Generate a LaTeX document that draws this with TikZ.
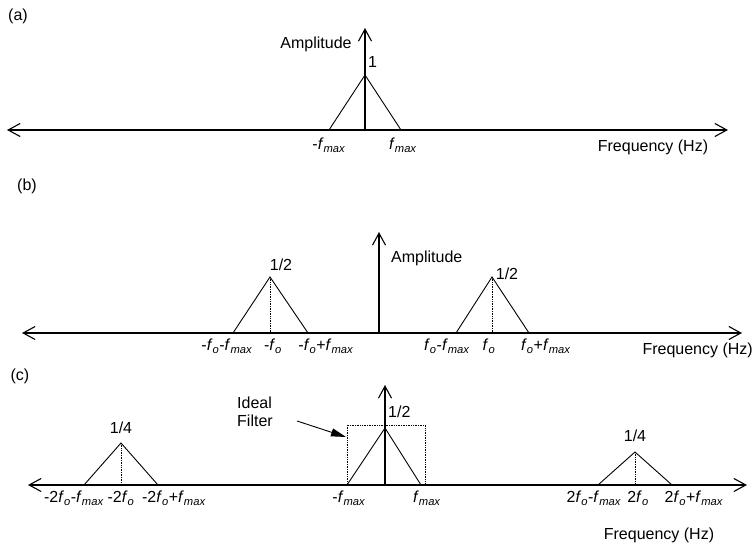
\documentclass[tikz,border=0pt]{standalone}
\usepackage{fontspec}
\setmainfont{Liberation Sans}
\usetikzlibrary{arrows.meta}
\newcommand{\fmx}{\textit{f}\textsubscript{\textit{max}}}
\newcommand{\fzo}{\textit{f}\textsubscript{\textit{o}}}
\begin{document}
\begin{tikzpicture}[x=1pt,y=-1pt,
  font=\fontsize{16}{18.5}\selectfont,
  axis/.style={line width=1.1pt,{Straight Barb[length=12pt,width=13pt]}-{Straight Barb[length=12pt,width=13pt]}},
  uparrow/.style={line width=1.1pt,-{Straight Barb[length=12pt,width=13pt]}},
  tri/.style={line width=0.9pt},
  dots/.style={densely dotted,line width=0.7pt},
  txt/.style={inner sep=0pt}]
\useasboundingbox (0,0) rectangle (753,543);

% ---------- (a)
\node[txt] (la) at (18,16) {(a)};
\coordinate (aL) at (7,130);
\coordinate (aR) at (728,130);
\coordinate (aO) at (365,130);
\coordinate (aT) at (365,28);
\coordinate (aP) at (365,75);
\coordinate (aB1) at (329,130);
\coordinate (aB2) at (401,130);
\draw[axis] (aL) -- (aR);
\draw[uparrow] (aO) -- (aT);
\draw[tri] (aB1) -- (aP) -- (aB2);
\node[txt] (aamp) at (316,44) {Amplitude};
\node[txt,anchor=west] (aone) at (368,62) {1};
\node[txt] (afm1) at (329,145) {-\fmx};
\node[txt] (afm2) at (403,145) {\fmx};
\node[txt] (afreq) at (653,147) {Frequency (Hz)};

% ---------- (b)
\node[txt] (lb) at (27,186) {(b)};
\coordinate (bL) at (22,333);
\coordinate (bR) at (742,333);
\coordinate (bO) at (379,333);
\coordinate (bT) at (379,232);
\draw[axis] (bL) -- (bR);
\draw[uparrow] (bO) -- (bT);
\coordinate (bl1) at (233,333);
\coordinate (blp) at (270,277);
\coordinate (blc) at (270,333);
\coordinate (bl2) at (308,333);
\draw[tri] (bl1) -- (blp) -- (bl2);
\draw[dots] (blp) -- (blc);
\coordinate (br1) at (456,333);
\coordinate (brp) at (492,277);
\coordinate (brc) at (492,333);
\coordinate (br2) at (529,333);
\draw[tri] (br1) -- (brp) -- (br2);
\draw[dots] (brp) -- (brc);
\node[txt,anchor=west] (bamp) at (391,258) {Amplitude};
\node[txt] (bh1) at (281,265) {1/2};
\node[txt] (bh2) at (507,274) {1/2};
\node[txt] (blab1) at (227,346) {-\fzo-\fmx};
\node[txt] (blab2) at (273,346) {-\fzo};
\node[txt] (blab3) at (326,346) {-\fzo+\fmx};
\node[txt] (blab4) at (447,346) {\fzo-\fmx};
\node[txt] (blab5) at (489,346) {\fzo};
\node[txt] (blab6) at (546,346) {\fzo+\fmx};
\node[txt,anchor=east] (bfreq) at (753,350) {Frequency (Hz)};

% ---------- (c)
\node[txt] (lc) at (20,376) {(c)};
\coordinate (cL) at (28,485);
\coordinate (cR) at (747,485);
\coordinate (cO) at (385,485);
\coordinate (cT) at (385,385);
\draw[axis] (cL) -- (cR);
\draw[uparrow] (cO) -- (cT);
\coordinate (cc1) at (347,485);
\coordinate (ccp) at (385,428);
\coordinate (cc2) at (421,485);
\draw[tri] (cc1) -- (ccp) -- (cc2);
\coordinate (fb1) at (347,485);
\coordinate (fb2) at (425,425);
\draw[dots] (fb1) rectangle (fb2);
\coordinate (cl1) at (84,485);
\coordinate (clp) at (121,443);
\coordinate (clc) at (121,485);
\coordinate (cl2) at (158,485);
\draw[tri] (cl1) -- (clp) -- (cl2);
\draw[dots] (clp) -- (clc);
\coordinate (cr1) at (598,485);
\coordinate (crp) at (635,452);
\coordinate (crc) at (635,485);
\coordinate (cr2) at (672,485);
\draw[tri] (cr1) -- (crp) -- (cr2);
\draw[dots] (crp) -- (crc);
\node[txt,anchor=west,align=left] (ideal) at (237,412) {Ideal\\Filter};
\coordinate (arS) at (297,421);
\coordinate (arE) at (346,437);
\draw[line width=0.9pt,-{Triangle[length=15pt,width=8pt]}] (arS) -- (arE);
\node[txt,anchor=west] (ch) at (388,412) {1/2};
\node[txt] (cq1) at (121,428) {1/4};
\node[txt] (cq2) at (635,436) {1/4};
\node[txt] (clab1) at (74,498) {-2\fzo-\fmx};
\node[txt] (clab2) at (121,498) {-2\fzo};
\node[txt] (clab3) at (174,498) {-2\fzo+\fmx};
\node[txt] (clab4) at (349,498) {-\fmx};
\node[txt] (clab5) at (427,498) {\fmx};
\node[txt] (clab6) at (594,498) {2\fzo-\fmx};
\node[txt] (clab7) at (638,498) {2\fzo};
\node[txt] (clab8) at (694,498) {2\fzo+\fmx};
\node[txt] (cfreq) at (659,535) {Frequency (Hz)};
\end{tikzpicture}
\end{document}
